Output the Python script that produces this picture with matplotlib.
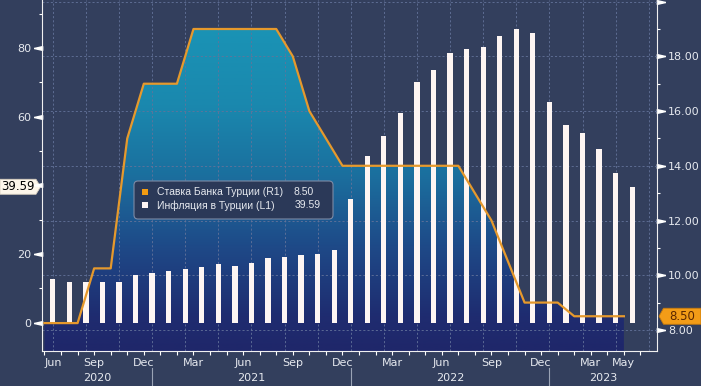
'''
  Инфляция и ставка Банка Турции
'''
import numpy as np
import matplotlib.pyplot as plt
from matplotlib.colors import LinearSegmentedColormap
from matplotlib.patches import Polygon, FancyBboxPatch, Rectangle
from matplotlib.transforms import IdentityTransform

# месяцы: 0 = июнь 2020 ... 35 = май 2023
inflation = [12.62, 11.76, 11.77, 11.75, 11.89, 14.03, 14.60,
             14.97, 15.61, 16.19, 17.14, 16.59, 17.53, 18.95, 19.25, 19.58, 19.89, 21.31, 36.08,
             48.69, 54.44, 61.14, 69.97, 73.50, 78.62, 79.60, 80.21, 83.45, 85.51, 84.39, 64.27,
             57.68, 55.18, 50.51, 43.68, 39.59]
rate = [8.25, 8.25, 8.25, 10.25, 10.25, 15.00, 17.00,
        17.00, 17.00, 19.00, 19.00, 19.00, 19.00, 19.00, 19.00, 18.00, 16.00, 15.00, 14.00,
        14.00, 14.00, 14.00, 14.00, 14.00, 14.00, 14.00, 13.00, 12.00, 10.50, 9.00, 9.00,
        9.00, 8.50, 8.50, 8.50, 8.50]

month_ticks = [0, 3, 6, 9, 12, 15, 18, 21, 24, 27, 30, 33, 35]
month_labels = ['Jun', 'Sep', 'Dec', 'Mar', 'Jun', 'Sep', 'Dec', 'Mar', 'Jun', 'Sep', 'Dec', 'Mar', 'May']
year_labels = ['2020', '2021', '2022', '2023']
year_pos = [3.2, 12.5, 24.5, 33.75]
year_breaks = [6.5, 18.5, 30.5]

last_rate = 8.50
last_infl = 39.59
rate_name = 'Ставка Банка Турции (R1)'
infl_name = 'Инфляция в Турции (L1)'

W, H = 701, 386
BG = '#333f5d'
TXT = '#e6e9ef'
ORANGE = '#e6992c'
XLIM = (-0.15, 37.0)
LLIM = (-8.25, 94.0)
RLIM = (7.23, 20.06)

x_rate = np.arange(len(rate))
x_bar = np.arange(len(inflation)) + 0.5

fig = plt.figure(figsize=(W / 100, H / 100), dpi=100, facecolor=BG)
rect = [42 / W, 35 / H, 615 / W, 351 / H]
ax2 = fig.add_axes(rect)               # правая шкала: ставка
ax = fig.add_axes(rect, sharex=ax2)    # левая шкала: инфляция
ax3 = fig.add_axes(rect, sharex=ax2)   # линия ставки поверх столбцов
ax2.set_zorder(0)
ax.set_zorder(1)
ax3.set_zorder(2)
ax.patch.set_visible(False)
ax3.patch.set_visible(False)
ax2.set_facecolor(BG)

# градиентная заливка под ставкой
cmap = LinearSegmentedColormap.from_list('fill', [(0, '#1f276a'), (0.1, '#1f2c70'), (0.3, '#1e4a88'),
                                                  (0.5, '#1b6f9e'), (0.7, '#1a88ae'), (1, '#1a97b8')])
grad = np.linspace(0, 1, 256).reshape(-1, 1)
im = ax2.imshow(grad, extent=[XLIM[0], XLIM[1], RLIM[0], RLIM[1]], origin='lower',
                aspect='auto', cmap=cmap, zorder=1)
poly = ax2.fill_between(x_rate, rate, RLIM[0], facecolor='none', edgecolor='none')
im.set_clip_path(poly.get_paths()[0], transform=ax2.transData)

ax2.set_xlim(XLIM)
ax2.set_ylim(RLIM)
ax2.yaxis.tick_right()
r_ticks = np.arange(8, 21, 2)
ax2.set_yticks(r_ticks, ['%.2f' % v if v < 20 else '' for v in r_ticks])
ax2.set_yticks(np.arange(9, 20, 2), minor=True)
ax2.set_axisbelow(False)
ax2.grid(axis='y', color='#64739a', ls=(0, (2.5, 2.5)), lw=0.6)
for xv in np.arange(0.5, 37, 2):
    ax2.axvline(xv, color='#64739a', ls=(0, (2.5, 2.5)), lw=0.6, zorder=2)
ax2.tick_params(axis='y', which='major', length=0, pad=8, labelsize=8, labelcolor=TXT)
ax2.tick_params(axis='y', which='minor', length=2.5, width=0.8, color='white', direction='out')
ax2.tick_params(axis='x', which='both', bottom=False, labelbottom=False)
for s in ['left', 'top', 'bottom']:
    ax2.spines[s].set_visible(False)
ax2.spines['right'].set_color('#f0f0f0')

# столбцы инфляции
ax.bar(x_bar, inflation, width=0.32, color='#fdf5f3', zorder=2)
ax.set_ylim(LLIM)
ax.set_yticks([0, 20, 40, 60, 80], ['0', '20', '', '60', '80'])
ax.set_yticks([10, 30, 50, 70, 90], minor=True)
ax.tick_params(axis='y', which='major', length=0, pad=7.5, labelsize=8, labelcolor=TXT)
ax.tick_params(axis='y', which='minor', length=2.5, width=0.8, color='white')
ax.set_xticks(month_ticks, month_labels)
ax.set_xticks(np.arange(0, 37), minor=True)
ax.tick_params(axis='x', which='both', length=3, width=0.8, color='white', pad=2,
               labelsize=8, labelcolor=TXT)
ax.get_xticklabels()[0].set_horizontalalignment('left')
for s in ['right', 'top']:
    ax.spines[s].set_visible(False)
for s in ['left', 'bottom']:
    ax.spines[s].set_color('#f0f0f0')

xt = ax.get_xaxis_transform()
for pos, lab in zip(year_pos, year_labels):
    ax.text(pos, -0.077, lab, transform=xt, ha='center', va='center', fontsize=8, color=TXT)
for xb in year_breaks:
    ax.plot([xb, xb], [-0.048, -0.1], transform=xt, color='#9aa3b5', lw=0.8, clip_on=False)

# треугольные метки осей
tri_l = [(-1, 0), (1, 0.45), (1, -0.45), (-1, 0)]
tri_r = [(1, 0), (-1, 0.45), (-1, -0.45), (1, 0)]
ax.plot([-0.0073] * 5, [0, 20, 40, 60, 80], ls='none', marker=tri_l, ms=6, color='white',
        transform=ax.get_yaxis_transform(), clip_on=False)
ax2.plot([1.0073] * 7, r_ticks, ls='none', marker=tri_r, ms=6, color='white',
         transform=ax2.get_yaxis_transform(), clip_on=False)

# линия ставки
ax3.plot(x_rate, rate, color=ORANGE, lw=1.6)
ax3.set_ylim(RLIM)
ax3.axis('off')

# ярлыки последних значений
idt = IdentityTransform()
yl = ax.transData.transform((0, last_infl))[1]
fig.add_artist(Polygon([(0, yl - 7.5), (36, yl - 7.5), (40.5, yl), (36, yl + 7.5), (0, yl + 7.5)],
                       closed=True, transform=idt, fc='#fdf6ea', ec='#d8cfc0', lw=0.6))
fig.text(18, yl, '%.2f' % last_infl, transform=idt, ha='center', va='center', fontsize=8.5, color='black')
yr = ax2.transData.transform((0, last_rate))[1]
fig.add_artist(Polygon([(659, yr), (663.5, yr - 8), (701, yr - 8), (701, yr + 8), (663.5, yr + 8)],
                       closed=True, transform=idt, fc='#f39c17', ec='#c77a0c', lw=0.6))
fig.text(682, yr, '%.2f' % last_rate, transform=idt, ha='center', va='center', fontsize=8.5, color='#5a2600')

# легенда
fig.add_artist(FancyBboxPatch((134, H - 219), 199, 38, boxstyle='round,pad=0,rounding_size=4',
                              transform=idt, fc='#2b3958', ec='#7d8aa5', lw=0.8))
fig.add_artist(Rectangle((141.5, H - 194.5), 6, 6, transform=idt, fc='#f39c12', ec='none'))
fig.add_artist(Rectangle((141.5, H - 208), 6, 6, transform=idt, fc='#fdf5f3', ec='none'))
lf = dict(transform=idt, va='center', fontsize=7.5, color=TXT, family=['Liberation Sans', 'DejaVu Sans'])
fig.text(157, H - 192, rate_name, **lf)
fig.text(157, H - 205.5, infl_name, **lf)
fig.text(293, H - 192, '%.2f' % last_rate, **lf)
fig.text(295, H - 205.5, '%.2f' % last_infl, **lf)

fig.savefig('out.png', dpi=100, facecolor=BG)
